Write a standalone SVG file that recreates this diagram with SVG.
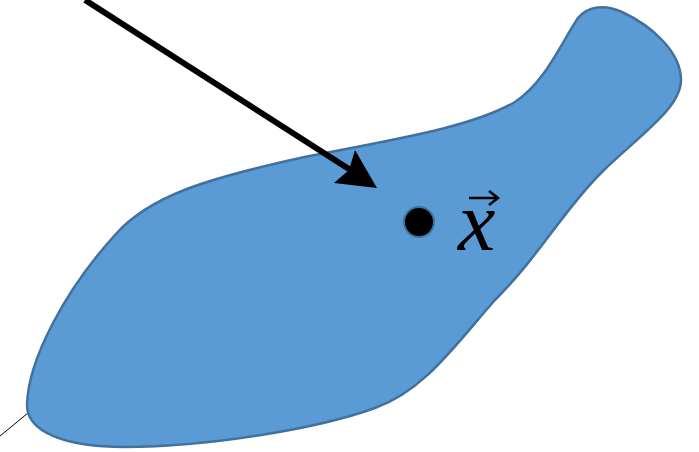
<svg xmlns="http://www.w3.org/2000/svg" width="699" height="452" viewBox="0 0 699 452">
<style>
.blob{fill:#5B9BD5;stroke:#41719C;stroke-width:2.5}
.lbl{font-family:"Liberation Serif",serif;font-style:italic;fill:#000}
</style>
<rect width="699" height="452" fill="#fff"/>
<g id="connectors">
<line x1="0" y1="436" x2="28" y2="413" stroke="#000" stroke-width="1"/>
</g>
<g id="region">
<path class="blob" d="M 578,18 C 588,6 605,4 622,12 C 652,26 681,52 681,80 C 681,108 640,135 602,172 C 565,208 540,255 495,300 C 455,345 425,390 375,408 C 320,428 210,447 125,447 C 65,447 27,432 27,405 C 28,360 65,290 115,235 C 150,195 210,178 300,158 C 390,140 470,128 515,102 C 545,82 560,45 578,18 Z"/>
</g>
<g id="arrow">
<line x1="85" y1="0" x2="352" y2="171" stroke="#000" stroke-width="6"/>
<polygon points="377,188 355,150 349,170 334,183" fill="#000"/>
</g>
<g id="point">
<circle cx="419" cy="222" r="15" fill="#000" stroke="#41719C" stroke-width="2"/>
<text class="lbl" x="458" y="250" font-size="84">x</text>
<path d="M 469,198 L 497,198 M 489,191 L 498,198 L 489,205" fill="none" stroke="#000" stroke-width="2.5"/>
</g>
</svg>
